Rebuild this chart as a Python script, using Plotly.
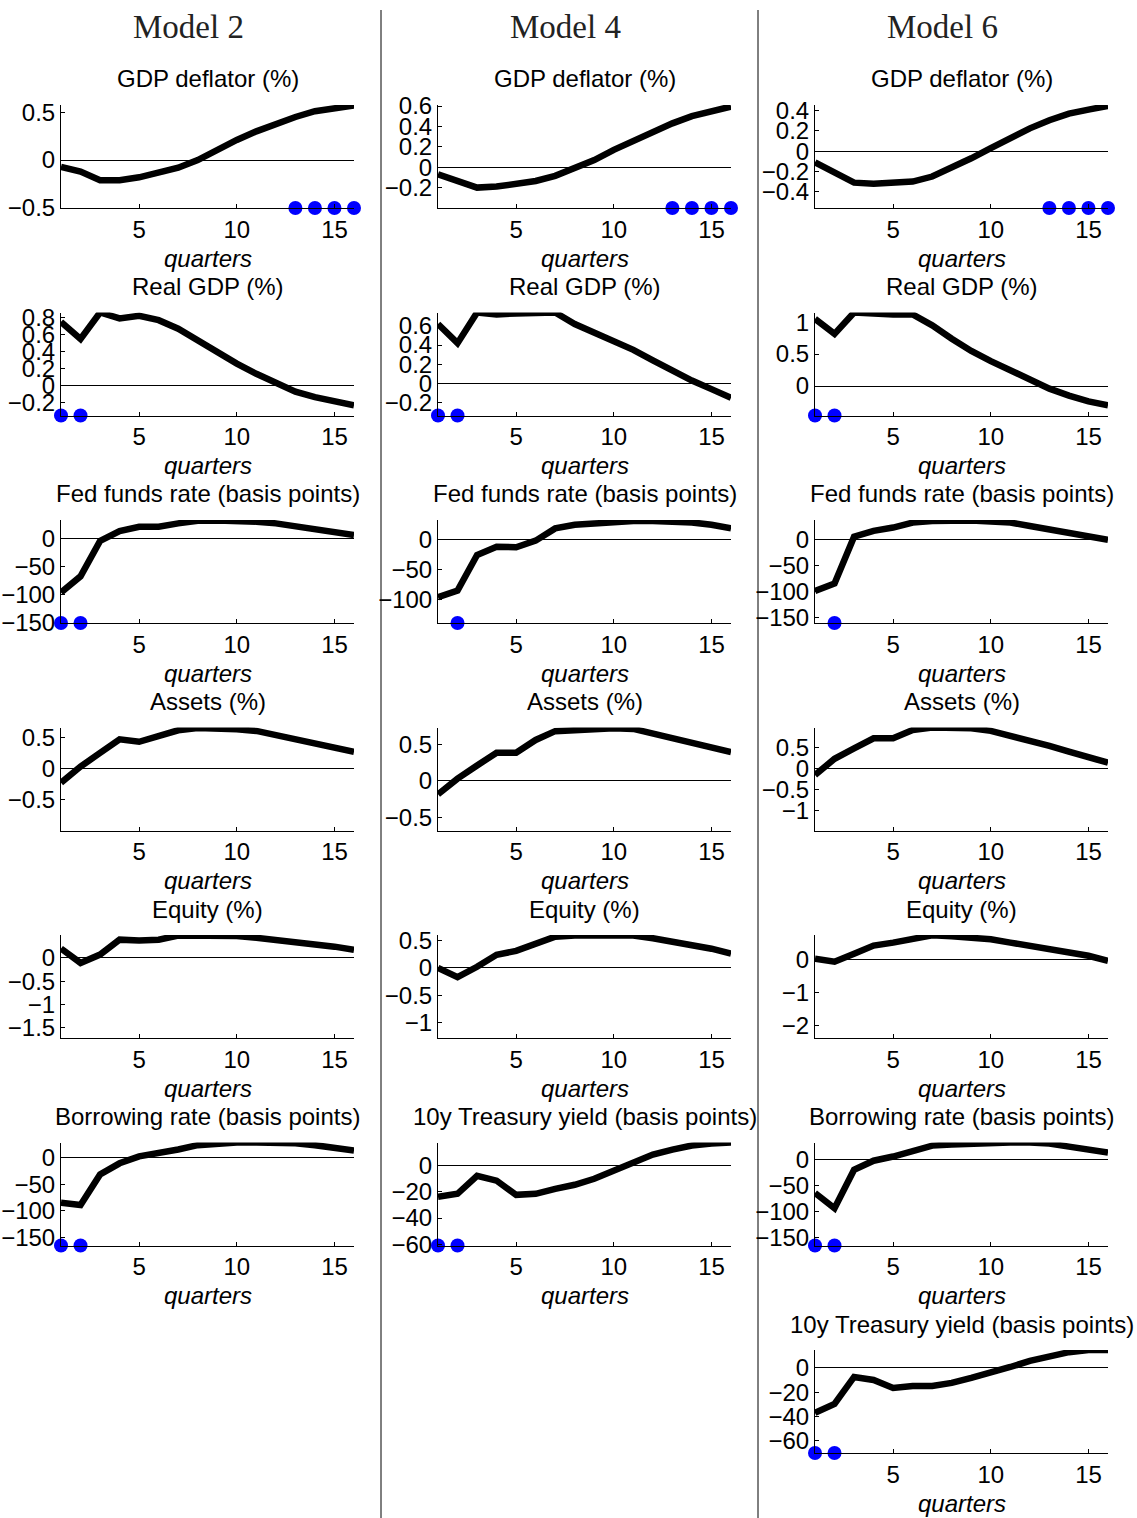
import plotly.graph_objects as go

W, H = 1137, 1518

quarters = list(range(1, 17))
model_names = ["Model 2", "Model 4", "Model 6"]

# ---- Model 2 ----
m2_deflator = [-0.07, -0.12, -0.21, -0.21, -0.18, -0.13, -0.08, 0.0, 0.11, 0.21, 0.30, 0.38, 0.45, 0.51, 0.54, 0.57]
m2_gdp = [0.75, 0.55, 0.86, 0.79, 0.82, 0.77, 0.67, 0.53, 0.39, 0.26, 0.14, 0.03, -0.07, -0.135, -0.19, -0.23]
m2_ffr = [-96, -67, -4, 13.5, 21, 21, 27, 31.5, 32, 31.5, 30, 27, 22.5, 18, 12.5, 6.5]
m2_assets = [-0.23, 0.03, 0.25, 0.47, 0.43, 0.52, 0.615, 0.65, 0.65, 0.63, 0.605, 0.54, 0.47, 0.405, 0.335, 0.27]
m2_equity = [0.2, -0.11, 0.07, 0.39, 0.37, 0.39, 0.48, 0.48, 0.47, 0.47, 0.43, 0.39, 0.35, 0.30, 0.24, 0.17]
m2_borrow = [-85, -89, -32, -11, 2, 7.6, 15, 23, 26.6, 28, 28, 28, 26.6, 23, 19, 13]

# ---- Model 4 ----
m4_deflator = [-0.07, -0.14, -0.20, -0.19, -0.165, -0.135, -0.085, -0.01, 0.07, 0.17, 0.26, 0.35, 0.43, 0.50, 0.555, 0.595]
m4_gdp = [0.62, 0.42, 0.74, 0.72, 0.73, 0.74, 0.74, 0.62, 0.53, 0.45, 0.35, 0.24, 0.13, 0.03, -0.06, -0.15]
m4_ffr = [-96, -85, -25.5, -11.5, -12.5, -1.5, 19, 25, 27, 30, 31.5, 31.5, 31, 29, 25, 19]
m4_assets = [-0.185, 0.03, 0.21, 0.385, 0.385, 0.56, 0.68, 0.70, 0.71, 0.72, 0.71, 0.65, 0.595, 0.535, 0.465, 0.395]
m4_equity = [0.0, -0.17, 0.02, 0.24, 0.31, 0.44, 0.57, 0.59, 0.59, 0.59, 0.59, 0.54, 0.48, 0.43, 0.35, 0.26]
m4_10y = [-23.8, -21.5, -7.7, -11.5, -22.3, -21.5, -17.7, -14.6, -10, -3.8, 3, 8.5, 12.3, 15.4, 17, 17.7]

# ---- Model 6 ----
m6_deflator = [-0.11, -0.215, -0.31, -0.32, -0.315, -0.30, -0.25, -0.165, -0.07, 0.03, 0.13, 0.225, 0.305, 0.37, 0.41, 0.445]
m6_gdp = [1.05, 0.815, 1.15, 1.13, 1.12, 1.12, 0.95, 0.74, 0.55, 0.39, 0.24, 0.095, -0.04, -0.15, -0.24, -0.30]
m6_ffr = [-99.5, -85, 5, 16, 22.5, 32, 35, 36, 36, 34, 32, 25.6, 19, 13, 6, -1]
m6_assets = [-0.15, 0.24, 0.49, 0.73, 0.73, 0.93, 0.99, 0.99, 0.97, 0.91, 0.80, 0.675, 0.55, 0.41, 0.285, 0.145]
m6_equity = [0.03, -0.06, 0.18, 0.43, 0.52, 0.62, 0.74, 0.71, 0.68, 0.62, 0.52, 0.43, 0.34, 0.22, 0.12, -0.03]
m6_borrow = [-64, -93.5, -19.5, -2, 6, 17.5, 27, 29, 31, 33, 33, 33, 31, 25, 19.5, 13.6]
m6_10y = [-37, -29.6, -7.4, -9.9, -16.4, -14.8, -14.8, -12.3, -8.2, -4.1, 0.8, 5.8, 9.9, 13, 14.8, 14.8]

# highlighted quarters (blue dots)
dots_deflator = [13, 14, 15, 16]
dots_early = [1, 2]
dots_q2 = [2]

x_ticks = [5, 10, 15]

# (col, row, title, values, dot quarters, y range, y ticks)
panels = [
    (0, 0, "GDP deflator (%)", m2_deflator, dots_deflator, [-0.5, 0.575], [-0.5, 0, 0.5]),
    (0, 1, "Real GDP (%)", m2_gdp, dots_early, [-0.35, 0.86], [-0.2, 0, 0.2, 0.4, 0.6, 0.8]),
    (0, 2, "Fed funds rate (basis points)", m2_ffr, dots_early, [-150, 33], [-150, -100, -50, 0]),
    (0, 3, "Assets (%)", m2_assets, [], [-1.0, 0.66], [-0.5, 0, 0.5]),
    (0, 4, "Equity (%)", m2_equity, [], [-1.72, 0.49], [-1.5, -1, -0.5, 0]),
    (0, 5, "Borrowing rate (basis points)", m2_borrow, dots_early, [-165, 28], [-150, -100, -50, 0]),
    (1, 0, "GDP deflator (%)", m4_deflator, dots_deflator, [-0.4, 0.61], [-0.2, 0, 0.2, 0.4, 0.6]),
    (1, 1, "Real GDP (%)", m4_gdp, dots_early, [-0.335, 0.74], [-0.2, 0, 0.2, 0.4, 0.6]),
    (1, 2, "Fed funds rate (basis points)", m4_ffr, dots_q2, [-139, 33], [-100, -50, 0]),
    (1, 3, "Assets (%)", m4_assets, [], [-0.68, 0.73], [-0.5, 0, 0.5]),
    (1, 4, "Equity (%)", m4_equity, [], [-1.28, 0.6], [-1, -0.5, 0, 0.5]),
    (1, 5, "10y Treasury yield (basis points)", m4_10y, dots_early, [-61, 17.7], [-60, -40, -20, 0]),
    (2, 0, "GDP deflator (%)", m6_deflator, dots_deflator, [-0.56, 0.455], [-0.4, -0.2, 0, 0.2, 0.4]),
    (2, 1, "Real GDP (%)", m6_gdp, dots_early, [-0.46, 1.15], [0, 0.5, 1]),
    (2, 2, "Fed funds rate (basis points)", m6_ffr, dots_q2, [-161, 37], [-150, -100, -50, 0]),
    (2, 3, "Assets (%)", m6_assets, [], [-1.48, 0.99], [-1, -0.5, 0, 0.5]),
    (2, 4, "Equity (%)", m6_equity, [], [-2.37, 0.75], [-2, -1, 0]),
    (2, 5, "Borrowing rate (basis points)", m6_borrow, dots_early, [-165, 33], [-150, -100, -50, 0]),
    (2, 6, "10y Treasury yield (basis points)", m6_10y, dots_early, [-70, 14.8], [-60, -40, -20, 0]),
]

col_left = [61, 438, 815]
col_width = 293
row_top0 = 105
row_step = 207.5
ax_h = 103

FONT = "Liberation Sans, Arial, Helvetica, sans-serif"
FS = 24


def py(p):
    return 1 - p / H


fig = go.Figure()
annotations = []
layout = {}

for i, (c, r, title, vals, dots, yr, yt) in enumerate(panels):
    n = i + 1
    xa = "x" if n == 1 else f"x{n}"
    ya = "y" if n == 1 else f"y{n}"
    xk = "xaxis" if n == 1 else f"xaxis{n}"
    yk = "yaxis" if n == 1 else f"yaxis{n}"
    left = col_left[c]
    top = row_top0 + r * row_step
    bot = top + ax_h
    layout[xk] = dict(
        domain=[left / W, (left + col_width) / W], anchor=ya, range=[1, 16],
        tickvals=x_ticks, ticks="inside", ticklen=4, tickcolor="#000", showline=True,
        linecolor="#000", linewidth=1, showgrid=False, zeroline=False, automargin=False,
        tickfont=dict(family=FONT, size=FS, color="#000"), fixedrange=True,
    )
    layout[yk] = dict(
        domain=[py(bot), py(top)], anchor=xa, range=yr, tickvals=yt,
        ticks="inside", ticklen=4, tickcolor="#000", showline=True,
        linecolor="#000", linewidth=1, showgrid=False, zeroline=True,
        zerolinecolor="#000", zerolinewidth=1, automargin=False,
        tickfont=dict(family=FONT, size=FS, color="#000"), fixedrange=True,
    )
    fig.add_trace(go.Scatter(x=quarters, y=vals, mode="lines", xaxis=xa, yaxis=ya,
                             line=dict(color="#000", width=6.5), showlegend=False,
                             hoverinfo="skip"))
    if dots:
        fig.add_trace(go.Scatter(x=dots, y=[yr[0]] * len(dots), mode="markers", xaxis=xa, yaxis=ya,
                                 marker=dict(color="#0000ff", size=14), cliponaxis=False,
                                 showlegend=False, hoverinfo="skip"))
    cx = (left + col_width / 2) / W
    annotations.append(dict(text=title, x=cx, y=py(top - 26), xref="paper", yref="paper",
                            xanchor="center", yanchor="middle", showarrow=False,
                            font=dict(family=FONT, size=FS, color="#000")))
    annotations.append(dict(text="<i>quarters</i>", x=cx, y=py(bot + 50), xref="paper", yref="paper",
                            xanchor="center", yanchor="middle", showarrow=False,
                            font=dict(family=FONT, size=FS, color="#000")))

for name, xc in zip(model_names, [188, 565, 942]):
    annotations.append(dict(text=name, x=xc / W, y=py(27), xref="paper", yref="paper",
                            xanchor="center", yanchor="middle", showarrow=False,
                            font=dict(family="Liberation Serif, DejaVu Serif, serif", size=33, color="#222")))

shapes = [dict(type="line", xref="paper", yref="paper", x0=xs / W, x1=xs / W, y0=py(10), y1=0,
               line=dict(color="#000", width=1)) for xs in [381, 758]]

fig.update_layout(width=W, height=H, margin=dict(l=0, r=0, t=0, b=0, autoexpand=False),
                  paper_bgcolor="white", plot_bgcolor="white",
                  annotations=annotations, shapes=shapes, **layout)

fig.write_html("out.html", config={"displayModeBar": False})
